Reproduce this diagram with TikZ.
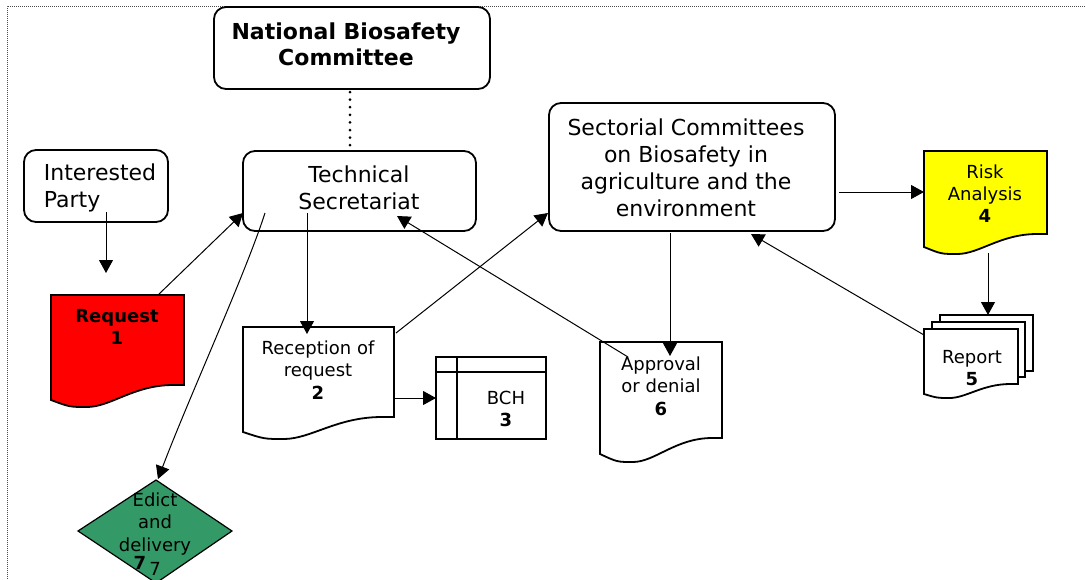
\documentclass[tikz,border=0pt]{standalone}
\usepackage{fontspec}
\setmainfont{DejaVu Sans}
\usetikzlibrary{arrows.meta}
\definecolor{reqred}{HTML}{FF0000}
\definecolor{riskyellow}{HTML}{FFFF00}
\definecolor{edictgreen}{HTML}{339966}
\tikzset{
  rbox/.style={draw=black, line width=1.8pt, rounded corners=12pt, fill=white, inner sep=0pt},
  shapeline/.style={draw=black, line width=1.8pt, line join=miter},
  conn/.style={draw=black, line width=1pt, -{Triangle[length=13pt,width=14pt]}},
  bigtxt/.style={font=\fontsize{22}{27}\selectfont, align=center, inner sep=0pt},
  smalltxt/.style={font=\fontsize{18}{22.5}\selectfont, align=center, inner sep=0pt},
  dotline/.style={draw=black, line width=3pt, line cap=round, dash pattern=on 0pt off 7.6pt}
}
% document shape: #1 options, #2 L, #3 R, #4 T, #5 right bottom, #6 left bottom, #7 trough
\newcommand{\flowdoc}[7]{%
  \path[shapeline,#1] (#2,#4) -- (#3,#4) -- (#3,#5)
    -- ({#3-0.08*(#3-#2)},#5)
    .. controls ({#2+0.62*(#3-#2)},#5) and ({#2+0.45*(#3-#2)},#7) .. ({#2+0.27*(#3-#2)},#7)
    .. controls ({#2+0.14*(#3-#2)},#7) .. (#2,#6) -- cycle;}
\begin{document}
\begin{tikzpicture}[x=1pt,y=-1pt]
\useasboundingbox (0,0) rectangle (1085,579);
% outer dotted border
\draw[black!70, line width=0.8pt, dash pattern=on 1pt off 1pt] (7,579) -- (7,6) -- (1085,6);

% rounded boxes
\node[rbox, minimum width=276pt, minimum height=82pt] (nbc) at (352,48) {};
\node[bigtxt, font=\fontsize{22}{26}\selectfont\bfseries] (nbctxt) at (346,44) {National Biosafety\\Committee};
\node[rbox, minimum width=144pt, minimum height=72pt] (ip) at (96,186) {};
\node[bigtxt, align=left] (iptxt) at (100,188) {Interested\\Party};
\node[rbox, minimum width=233pt, minimum height=80pt] (ts) at (359.5,191) {};
\node[bigtxt] (tstxt) at (359,188) {Technical\\Secretariat};
\node[rbox, minimum width=286pt, minimum height=128pt] (sc) at (692,167) {};
\node[bigtxt] (sctxt) at (686,168) {Sectorial Committees\\on Biosafety in\\agriculture and the\\environment};

% dotted link
\draw[dotline] (350,92) -- (350,146);

% documents
\flowdoc{fill=reqred}{51}{184}{295}{385}{400}{407}
\node[smalltxt, font=\fontsize{18}{22}\selectfont\bfseries] (req) at (117,327) {Request\\1};
\flowdoc{fill=white}{243}{394}{327}{417}{432}{439}
\node[smalltxt] (rec) at (318,370) {Reception of\\request\\\textbf{2}};
\flowdoc{fill=white}{600}{722}{342}{438}{454}{462}
\node[smalltxt] (app) at (661,386) {Approval\\or denial\\\textbf{6}};
\flowdoc{fill=riskyellow}{924}{1047}{151}{234}{247}{254}
\node[smalltxt, font=\fontsize{18}{22}\selectfont] (risk) at (985,194) {Risk\\Analysis\\\textbf{4}};
% report stack
\path[shapeline, fill=white] (940,315) rectangle (1033,371);
\path[shapeline, fill=white] (932,322) rectangle (1025,377);
\flowdoc{fill=white}{924}{1018}{329}{384}{394}{398}
\node[smalltxt] (rep) at (972,368) {Report\\\textbf{5}};

% BCH
\path[shapeline, fill=white] (436,357) rectangle (546,439);
\draw[line width=1.8pt] (436,372) -- (546,372);
\draw[line width=1.8pt] (457,357) -- (457,439);
\node[smalltxt] (bch) at (506,409) {BCH\\\textbf{3}};

% decision diamond
\path[draw=black, line width=1.2pt, fill=edictgreen] (156,480) -- (232,531) -- (156,583) -- (78,531) -- cycle;
\node[smalltxt] (edict) at (155,524) {Edict\\and\\delivery};
\node[smalltxt, font=\fontsize{18}{22}\selectfont\bfseries] (seven) at (140,563) {7};
\node[smalltxt] (sevenb) at (155,569) {7};

% connector end points
\coordinate (ipout) at (106,212);
\coordinate (reqin) at (106,273);
\coordinate (reqout) at (158,295);
\coordinate (tsinL) at (243,213);
\coordinate (tsoutA) at (307,213);
\coordinate (recin) at (307,334);
\coordinate (tsoutB) at (265,213);
\coordinate (edin) at (158,479);
\coordinate (recoutA) at (393,398);
\coordinate (bchin) at (436,398);
\coordinate (recoutB) at (396,333);
\coordinate (scinL) at (548,213);
\coordinate (scout) at (670,233);
\coordinate (appin) at (670,356);
\coordinate (appout) at (628,357);
\coordinate (tsinR) at (397,216);
\coordinate (scoutR) at (839,192);
\coordinate (riskin) at (924,192);
\coordinate (riskout) at (988,253);
\coordinate (repin) at (988,315);
\coordinate (repout) at (924,335);
\coordinate (scinB) at (751,234);

% connectors
\draw[conn] (ipout) -- (reqin);
\draw[conn] (reqout) -- (tsinL);
\draw[conn] (tsoutA) -- (recin);
\draw[conn] (tsoutB) .. controls (245,275) and (190,395) .. (edin);
\draw[conn] (recoutA) -- (bchin);
\draw[conn] (recoutB) -- (scinL);
\draw[conn] (scout) -- (appin);
\draw[conn] (appout) -- (tsinR);
\draw[conn] (scoutR) -- (riskin);
\draw[conn] (riskout) -- (repin);
\draw[conn] (repout) -- (scinB);
\end{tikzpicture}
\end{document}
